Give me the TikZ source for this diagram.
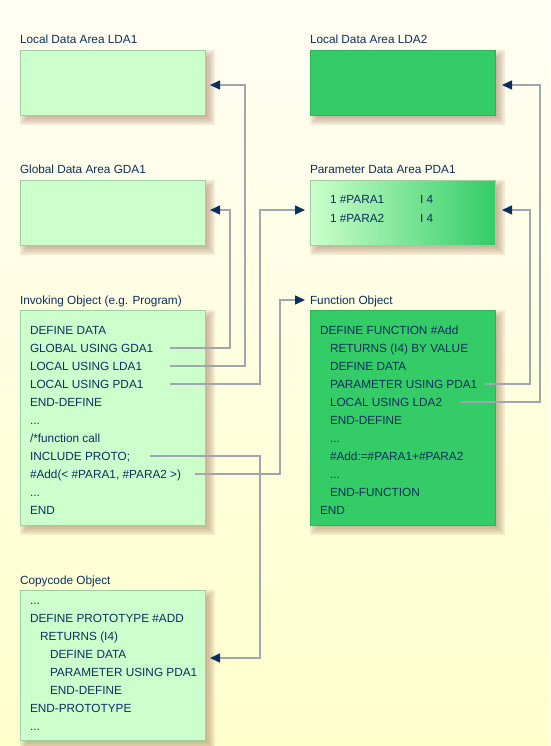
\documentclass[tikz,border=0pt]{standalone}
\usepackage{fontspec}
\setmainfont{Liberation Sans}
\usetikzlibrary{arrows.meta,calc}
\definecolor{txtc}{HTML}{0B2F5E}
\definecolor{lgreen}{HTML}{CCFFCC}
\definecolor{dgreen}{HTML}{33CC66}
\definecolor{lborder}{HTML}{9CCFA4}
\definecolor{dborder}{HTML}{2DB55C}
\definecolor{linec}{HTML}{A0A6AE}
\definecolor{shc}{RGB}{165,125,100}
\definecolor{bgtop}{HTML}{FFFEF3}
\definecolor{bgmid}{HTML}{FFFFDA}
\definecolor{bgbot}{HTML}{FFFFCC}
\tikzset{
  txt/.style={anchor=base west, inner sep=0pt, outer sep=0pt, text=txtc, font=\fontsize{11.8}{14}\selectfont},
  lightbox/.style={draw=lborder, line width=0.8pt, fill=lgreen},
  darkbox/.style={draw=dborder, line width=0.8pt, fill=dgreen},
  gradbox/.style={draw=lborder, line width=0.8pt, left color=lgreen, right color=dgreen},
  conn/.style={draw=linec, line width=1.5pt, -{Triangle[length=10pt,width=9pt,color=txtc]}},
}
\newcommand\mkbox[6]{%
  \foreach \r in {5,3,1,-1,-3,-5}{\fill[shc,opacity=0.15] ({#2+5-(\r)},{#3+5-(\r)}) rectangle ({#4+5+(\r)},{#5+5+(\r)});}
  \node[#6, inner sep=0pt, outer sep=0pt, anchor=north west, minimum width={#4-#2}, minimum height={#5-#3}] (#1) at (#2,#3) {};
}
\begin{document}
\begin{tikzpicture}[x=1pt,y=-1pt]
\useasboundingbox (0,0) rectangle (550,746);
\shade[top color=bgtop, middle color=bgmid, bottom color=bgbot] (0,0) rectangle (550,746);

% boxes
\mkbox{lda1}{20}{50}{205}{115}{lightbox}
\mkbox{gda1}{20}{180}{205}{245}{lightbox}
\mkbox{inv}{20}{310}{205}{525}{lightbox}
\mkbox{copy}{20}{590}{205}{740}{lightbox}
\mkbox{lda2}{310}{50}{495}{115}{darkbox}
\mkbox{pda1}{310}{180}{495}{245}{gradbox}
\mkbox{func}{310}{310}{495}{525}{darkbox}

% titles
\node[txt] (lda1lbl) at (20,44) {Local Data Area LDA1};
\node[txt] (gda1lbl) at (20,174) {Global Data Area GDA1};
\node[txt] (invlbl) at (20,304) {Invoking Object (e.g. Program)};
\node[txt] (copylbl) at (20,584) {Copycode Object};
\node[txt] (lda2lbl) at (310,44) {Local Data Area LDA2};
\node[txt] (pda1lbl) at (310,174) {Parameter Data Area PDA1};
\node[txt] (funclbl) at (310,304) {Function Object};

% PDA1 content
\node[txt] (p1) at (330,204) {1 \#PARA1};
\node[txt] (p1t) at (420,204) {I 4};
\node[txt] (p2) at (330,222) {1 \#PARA2};
\node[txt] (p2t) at (420,222) {I 4};

% invoking object
\node[txt] (i1) at (30,334) {DEFINE DATA};
\node[txt] (i2) at (30,352) {GLOBAL USING GDA1};
\node[txt] (i3) at (30,370) {LOCAL USING LDA1};
\node[txt] (i4) at (30,388) {LOCAL USING PDA1};
\node[txt] (i5) at (30,406) {END-DEFINE};
\node[txt] (i6) at (30,424) {...};
\node[txt] (i7) at (30,442) {/*function call};
\node[txt] (i8) at (30,460) {INCLUDE PROTO;};
\node[txt] (i9) at (30,478) {\#Add(< \#PARA1, \#PARA2 >)};
\node[txt] (i10) at (30,496) {...};
\node[txt] (i11) at (30,514) {END};

% function object
\node[txt] (f1) at (320,334) {DEFINE FUNCTION \#Add};
\node[txt] (f2) at (330,352) {RETURNS (I4) BY VALUE};
\node[txt] (f3) at (330,370) {DEFINE DATA};
\node[txt] (f4) at (330,388) {PARAMETER USING PDA1};
\node[txt] (f5) at (330,406) {LOCAL USING LDA2};
\node[txt] (f6) at (330,424) {END-DEFINE};
\node[txt] (f7) at (330,442) {...};
\node[txt] (f8) at (330,460) {\#Add:=\#PARA1+\#PARA2};
\node[txt] (f9) at (330,478) {...};
\node[txt] (f10) at (330,496) {END-FUNCTION};
\node[txt] (f11) at (320,514) {END};

% copycode object
\node[txt] (c1) at (30,604) {...};
\node[txt] (c2) at (30,622) {DEFINE PROTOTYPE \#ADD};
\node[txt] (c3) at (40,640) {RETURNS (I4)};
\node[txt] (c4) at (50,658) {DEFINE DATA};
\node[txt] (c5) at (50,676) {PARAMETER USING PDA1};
\node[txt] (c6) at (50,694) {END-DEFINE};
\node[txt] (c7) at (30,712) {END-PROTOTYPE};
\node[txt] (c8) at (30,730) {...};

% connector start points
\coordinate (s1) at (170,348);
\coordinate (s2) at (170,366);
\coordinate (s3) at (170,384);
\coordinate (s4) at (150,456);
\coordinate (s5) at (195,474);
\coordinate (s6) at (485,384);
\coordinate (s7) at (460,402);

\draw[conn] (s1) -- ++(60,0) |- ($(gda1.east)+(5,-2.5)$);
\draw[conn] (s2) -- ++(75,0) |- ($(lda1.east)+(5,2.5)$);
\draw[conn] (s3) -- ++(90,0) |- ($(pda1.west)+(-5,-2.5)$);
\draw[conn] (s4) -- ++(110,0) |- ($(copy.east)+(5,-7)$);
\draw[conn] (s5) -- ++(85,0) |- ($(funclbl.base west)+(-5,-4)$);
\draw[conn] (s6) -- ++(45,0) |- ($(pda1.east)+(7,-2.5)$);
\draw[conn] (s7) -- ++(80,0) |- ($(lda2.east)+(7,2.5)$);
\end{tikzpicture}
\end{document}
